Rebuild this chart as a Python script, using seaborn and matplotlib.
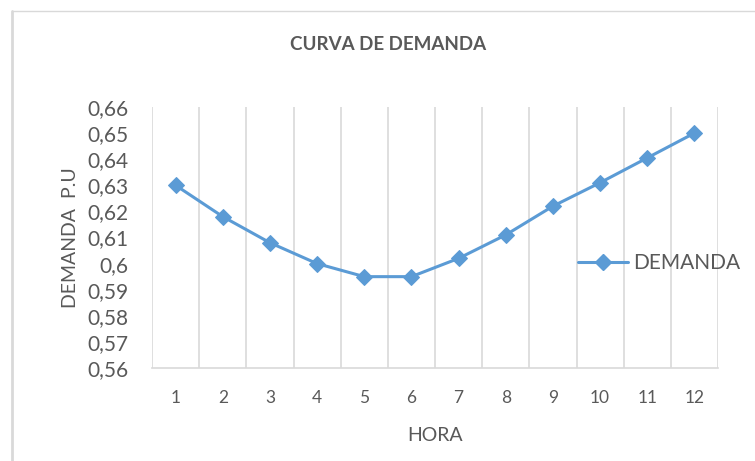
import matplotlib
matplotlib.use("Agg")
import matplotlib.pyplot as plt
import matplotlib.ticker as mticker
from matplotlib.lines import Line2D
import pandas as pd
import seaborn as sns

# data
horas = [1, 2, 3, 4, 5, 6, 7, 8, 9, 10, 11, 12]
demanda = [0.630, 0.618, 0.608, 0.600, 0.595, 0.595, 0.602, 0.611, 0.622, 0.631, 0.6405, 0.650]
y_ticks = [0.56, 0.57, 0.58, 0.59, 0.60, 0.61, 0.62, 0.63, 0.64, 0.65, 0.66]

df = pd.DataFrame({"HORA": horas, "DEMANDA": demanda})

sns.set_theme(style="white")
plt.rcParams["font.family"] = ["Lato", "DejaVu Sans"]

text_color = "#595959"
line_color = "#5B9BD5"
grid_color = "#D9D9D9"

fig = plt.figure(figsize=(7.55, 4.61), dpi=100)
ax = fig.add_axes([152 / 755, 1 - 368 / 461, (718 - 152) / 755, (368 - 107) / 461])

sns.lineplot(data=df, x="HORA", y="DEMANDA", ax=ax, color=line_color,
             linewidth=2.2, marker="D", markersize=8.5,
             markeredgecolor=line_color, legend=False)

ax.set_xlim(0.5, 12.5)
ax.set_ylim(0.56, 0.66)
ax.set_xticks(horas)
ax.set_xticklabels([str(h) for h in horas])
ax.set_yticks(y_ticks)
ax.yaxis.set_major_formatter(mticker.FuncFormatter(
    lambda v, p: ("%.2f" % v).rstrip("0").replace(".", ",")))

# vertical gridlines between categories
ax.set_xticks([h + 0.5 for h in [0] + horas], minor=True)
ax.grid(which="minor", axis="x", color=grid_color, linewidth=1.2)
ax.grid(which="major", visible=False)
ax.tick_params(which="both", length=0)
ax.tick_params(axis="x", labelsize=12.5, colors=text_color, pad=16)
ax.tick_params(axis="y", labelsize=15, colors=text_color, pad=17)
for side in ["top", "right", "left"]:
    ax.spines[side].set_visible(False)
ax.spines["bottom"].set_color(grid_color)
ax.spines["bottom"].set_linewidth(1.2)

ax.set_xlabel("HORA", fontsize=14, color=text_color, labelpad=15)
ax.set_ylabel("DEMANDA  P.U", fontsize=14, color=text_color, labelpad=6)

fig.text(388 / 755, 1 - 45 / 461, "CURVA DE DEMANDA", ha="center", va="center",
         fontsize=13.5, fontweight="bold", color=text_color)

handle = Line2D([], [], color=line_color, linewidth=2.2, marker="D",
                markersize=8.5, markeredgecolor=line_color)
fig.legend([handle], ["DEMANDA"], loc="center left",
           bbox_to_anchor=(570 / 755, 1 - 263 / 461), frameon=False,
           fontsize=15, labelcolor=text_color, handlelength=2.4,
           handletextpad=0.25, borderaxespad=0)

# chart frame (partly cut off in the reference)
fig.add_artist(Line2D([11.5 / 755, 11.5 / 755], [0, 1 - 11 / 461],
                      color=grid_color, linewidth=2, transform=fig.transFigure))
fig.add_artist(Line2D([11.5 / 755, 1], [1 - 11 / 461, 1 - 11 / 461],
                      color=grid_color, linewidth=1, transform=fig.transFigure))

fig.savefig("out.png", dpi=100)
